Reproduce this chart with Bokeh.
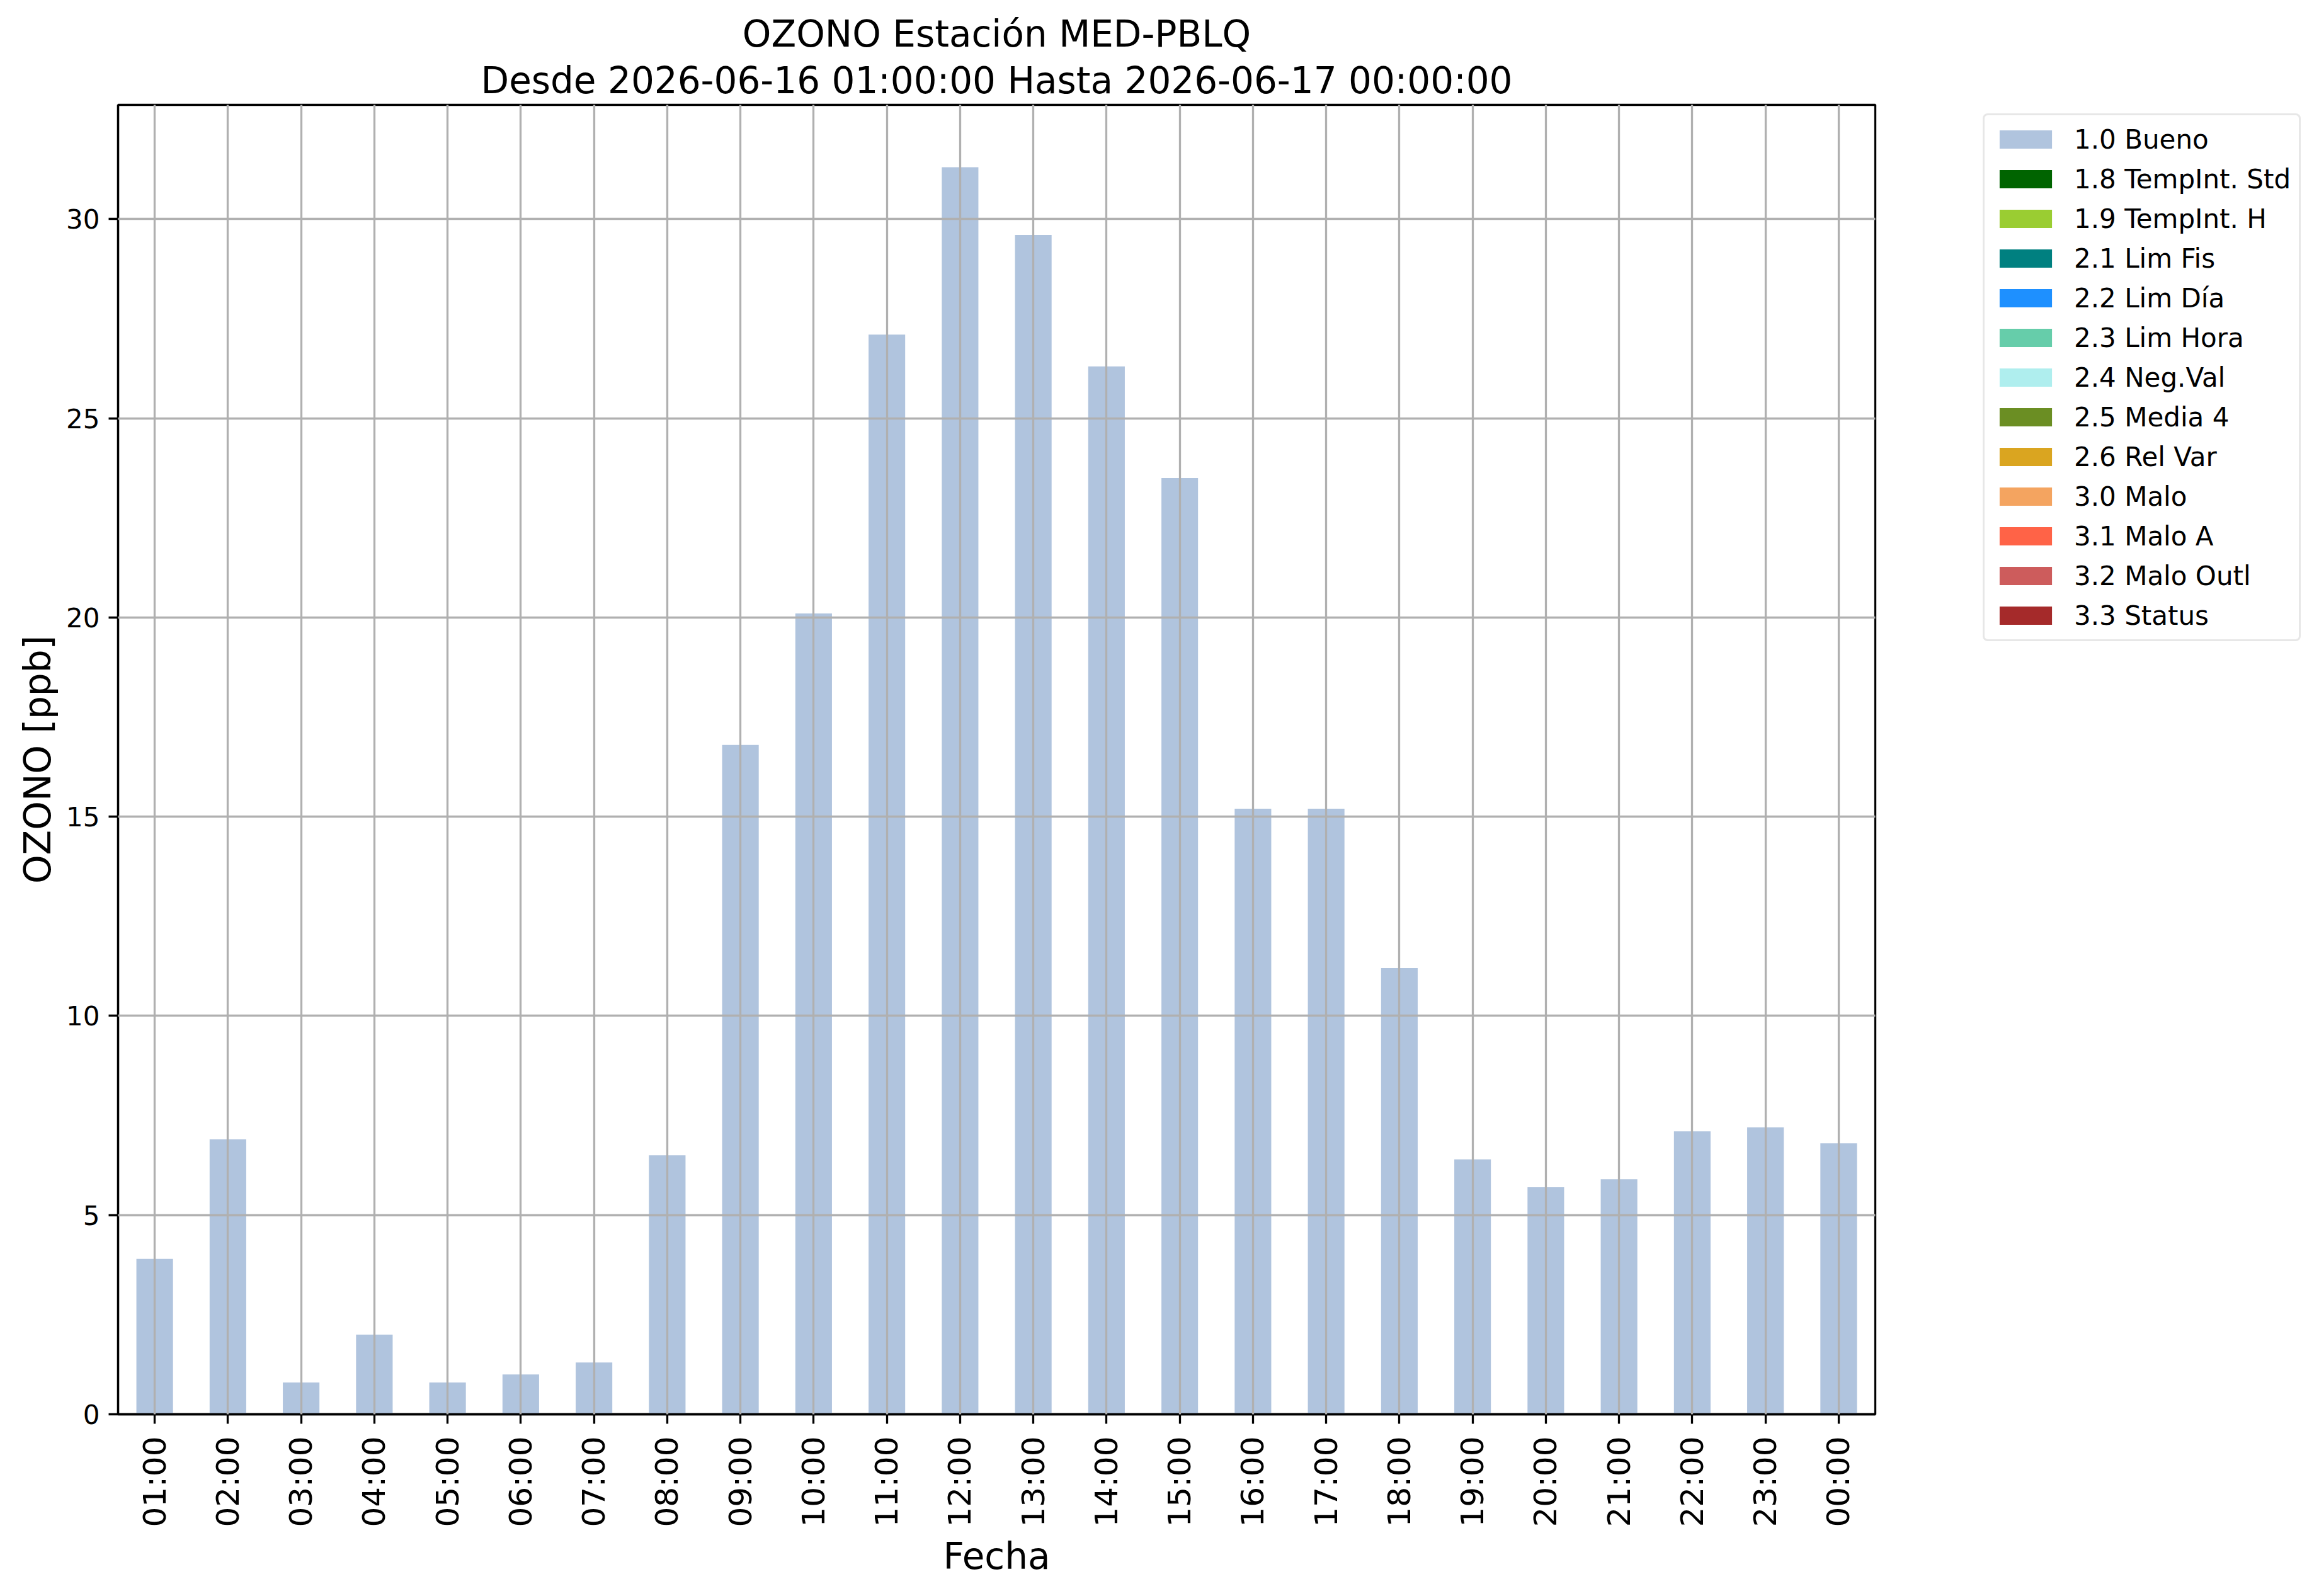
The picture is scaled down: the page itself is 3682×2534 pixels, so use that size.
import math
from bokeh.plotting import figure
from bokeh.layouts import row
from bokeh.models import (ColumnDataSource, FactorRange, Range1d, FixedTicker,
                          Legend, LegendItem, Title)
from bokeh.embed import file_html
from bokeh.resources import INLINE

# ---------------- data ----------------
hours = ["01:00", "02:00", "03:00", "04:00", "05:00", "06:00", "07:00", "08:00",
         "09:00", "10:00", "11:00", "12:00", "13:00", "14:00", "15:00", "16:00",
         "17:00", "18:00", "19:00", "20:00", "21:00", "22:00", "23:00", "00:00"]
ozone = [3.9, 6.9, 0.8, 2.0, 0.8, 1.0, 1.3, 6.5, 16.8, 20.1, 27.1, 31.3,
         29.6, 26.3, 23.5, 15.2, 15.2, 11.2, 6.4, 5.7, 5.9, 7.1, 7.2, 6.8]
status = ["1.0 Bueno", "1.0 Bueno", "1.0 Bueno", "1.0 Bueno", "1.0 Bueno", "1.0 Bueno",
          "1.0 Bueno", "1.0 Bueno", "1.0 Bueno", "1.0 Bueno", "1.0 Bueno", "1.0 Bueno",
          "1.0 Bueno", "1.0 Bueno", "1.0 Bueno", "1.0 Bueno", "1.0 Bueno", "1.0 Bueno",
          "1.0 Bueno", "1.0 Bueno", "1.0 Bueno", "1.0 Bueno", "1.0 Bueno", "1.0 Bueno"]
categories = ["1.0 Bueno", "1.8 TempInt. Std", "1.9 TempInt. H", "2.1 Lim Fis",
              "2.2 Lim Día", "2.3 Lim Hora", "2.4 Neg.Val", "2.5 Media 4",
              "2.6 Rel Var", "3.0 Malo", "3.1 Malo A", "3.2 Malo Outl", "3.3 Status"]
cat_colors = ["#B0C4DE", "#006400", "#9ACD32", "#008080", "#1E90FF", "#66CDAA",
              "#AFEEEE", "#6B8E23", "#DAA520", "#F4A460", "#FF6347", "#CD5C5C", "#A52A2A"]
y_ticks = [0, 5, 10, 15, 20, 25, 30]
title_line1 = "OZONO Estación MED-PBLQ"
title_line2 = "Desde 2026-06-16 01:00:00 Hasta 2026-06-17 00:00:00"
x_label = "Fecha"
y_label = "OZONO [ppb]"

# ---------------- figure ----------------
FONT = "DejaVu Sans"
LW = 3.3
H = 2518

p = figure(width=2981, height=H, output_backend="svg", toolbar_location=None,
           x_range=FactorRange(factors=hours),
           y_range=Range1d(0, max(ozone) * 1.05),
           min_border_left=187, min_border_right=4,
           min_border_top=166, min_border_bottom=273,
           title=None)
p.background_fill_color = "white"
p.border_fill_color = "white"
p.outline_line_color = "black"
p.outline_line_width = LW

# one (stacked, pandas-like) bar series per status category; zero where not that status
sources = []
for cat, col in zip(categories, cat_colors):
    tops = [v if s == cat else 0.0 for v, s in zip(ozone, status)]
    src = ColumnDataSource(data=dict(x=hours, top=tops))
    sources.append(src)
    p.vbar(x="x", top="top", width=0.5, bottom=0, source=src,
           fill_color=col, line_color=None)

# titles
t2 = Title(text=title_line2, align="center", text_font=FONT, text_font_size="58px",
           text_font_style="normal", text_color="black", standoff=9)
t1 = Title(text=title_line1, align="center", text_font=FONT, text_font_size="58px",
           text_font_style="normal", text_color="black", standoff=0)
p.add_layout(t2, "above")
p.add_layout(t1, "above")

# axes
for ax in (p.xaxis[0], p.yaxis[0]):
    ax.axis_line_width = LW
    ax.axis_line_color = "black"
    ax.major_tick_line_width = LW
    ax.major_tick_line_color = "black"
    ax.major_tick_out = 15
    ax.major_tick_in = 0
    ax.minor_tick_line_color = None
    ax.major_label_text_font = FONT
    ax.major_label_text_color = "black"
    ax.axis_label_text_font = FONT
    ax.axis_label_text_font_style = "normal"
    ax.axis_label_text_font_size = "58px"
    ax.axis_label_text_color = "black"

p.xaxis.axis_label = x_label
p.yaxis.axis_label = y_label
p.xaxis.major_label_orientation = math.pi / 2
p.xaxis.major_label_text_font_size = "50px"
p.xaxis.major_label_standoff = 20
p.xaxis.axis_label_standoff = 9
p.yaxis.ticker = FixedTicker(ticks=y_ticks)
p.yaxis.major_label_text_font_size = "42px"
p.yaxis.major_label_standoff = 14
p.yaxis.axis_label_standoff = 8

# grid (drawn over bars, like matplotlib)
p.xgrid.grid_line_color = "#b0b0b0"
p.xgrid.grid_line_width = LW
p.xgrid.level = "annotation"
p.ygrid.ticker = FixedTicker(ticks=[t for t in y_ticks if t > 0])
p.ygrid.grid_line_color = "#b0b0b0"
p.ygrid.grid_line_width = LW
p.ygrid.level = "annotation"

# ---------------- legend panel (right) ----------------
pl = figure(width=685, height=H, output_backend="svg", toolbar_location=None,
            x_range=FactorRange(factors=hours), y_range=Range1d(-2, -1),
            x_axis_location=None, y_axis_location=None,
            min_border_left=0, min_border_right=0, min_border_top=0, min_border_bottom=0,
            title=None)
pl.outline_line_color = None
pl.grid.visible = False
pl.background_fill_color = "white"
pl.border_fill_color = "white"

# legend proxies (zero-width, so nothing is drawn in this panel itself)
leg_renderers = []
for src, col in zip(sources, cat_colors):
    r = pl.vbar(x="x", top="top", width=0, bottom=0, source=src,
                fill_color=col, line_color=None)
    leg_renderers.append(r)

legend = Legend(items=[LegendItem(label=c, renderers=[r]) for c, r in zip(categories, leg_renderers)],
                location=(167, 1227), orientation="vertical",
                label_text_font=FONT, label_text_font_size="42px", label_text_color="black",
                glyph_width=104, glyph_height=36, label_height=50, label_standoff=25,
                spacing=13, padding=13, margin=0,
                border_line_color="#d0d0d0", border_line_width=LW,
                background_fill_color="white", background_fill_alpha=1.0)
if "border_radius" in Legend.properties():
    legend.border_radius = 8
pl.add_layout(legend, "center")

layout = row(p, pl)
open("out.html", "w").write(file_html(layout, INLINE))
